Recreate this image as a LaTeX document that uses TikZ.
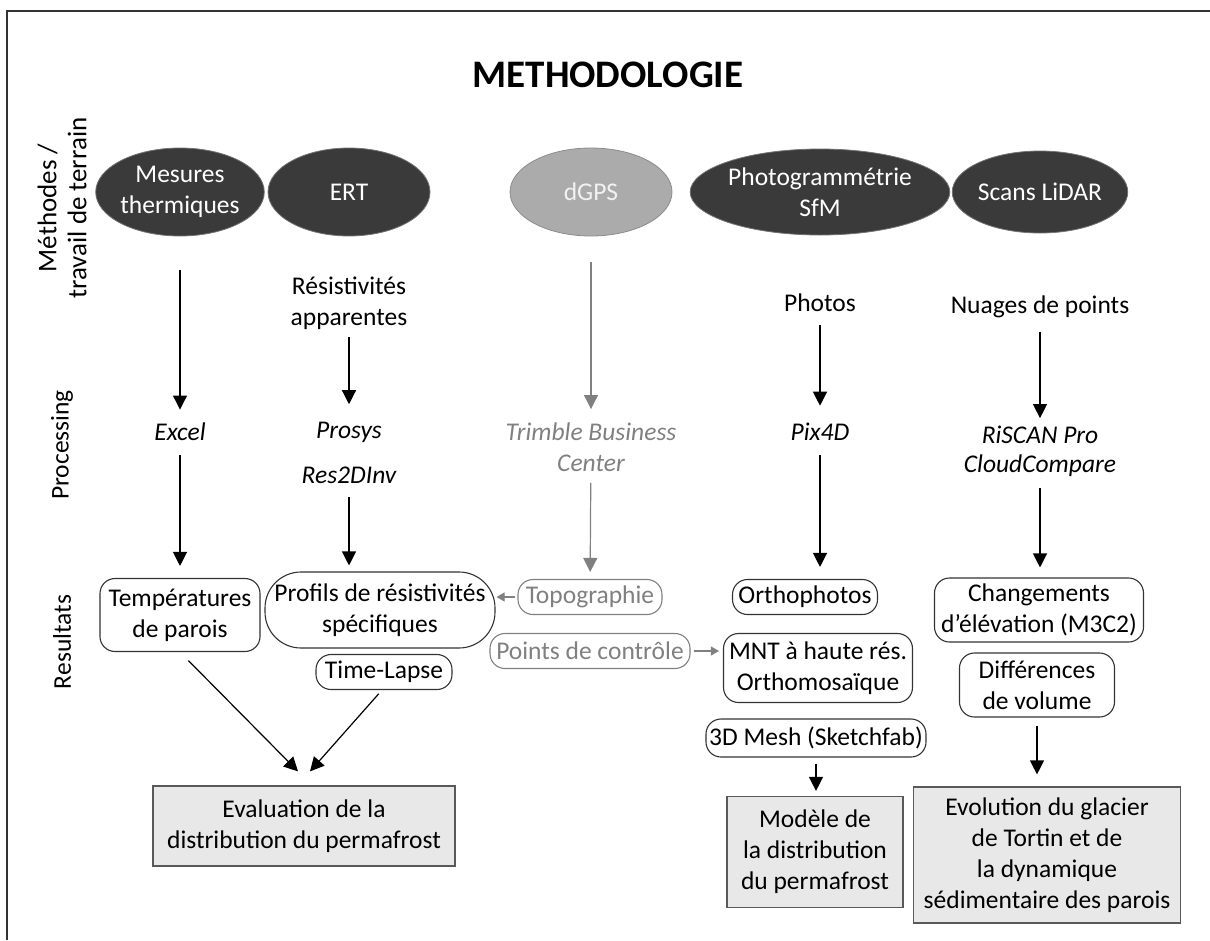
\documentclass[tikz,border=0pt]{standalone}
\usepackage{fontspec}
\setmainfont{Carlito}
\usetikzlibrary{arrows.meta,shapes.geometric}
\definecolor{darkfill}{HTML}{3A3A3A}
\definecolor{lightfill}{HTML}{E8E8E8}
\definecolor{softgray}{HTML}{808080}
\tikzset{
  meth/.style={ellipse, draw=black!55, line width=0.8pt, fill=darkfill, text=white,
    minimum width=162pt, minimum height=88pt, inner sep=0pt, align=center},
  res/.style={draw=black!80, rounded corners=15pt, align=center, inner sep=1pt, line width=1.1pt},
  soft/.style={draw=softgray, text=softgray},
  fin/.style={draw=black!65, fill=lightfill, align=center, line width=1.2pt, inner sep=2pt,
    font=\fontsize{25.5}{31}\selectfont},
  arr/.style={-{Triangle[width=14pt,length=14pt]}, line width=1.2pt, draw=black},
  garr/.style={-{Triangle[width=9pt,length=8pt]}, line width=1.1pt, draw=softgray, fill=softgray},
  gbig/.style={-{Triangle[width=14pt,length=14pt]}, line width=1.2pt, draw=softgray, fill=softgray},
  lbl/.style={rotate=90, align=center},
  plain/.style={align=center},
  itx/.style={font=\fontsize{25.5}{31}\selectfont\itshape}
}
\begin{document}
\begin{tikzpicture}[x=1pt,y=-1pt,font=\fontsize{25.5}{31}\selectfont]
\useasboundingbox (0,0) rectangle (1210,940);
\draw[line width=2pt, black!80] (7,940) -- (7,11) -- (1210,11);

\node[font=\fontsize{39}{46}\selectfont\bfseries] (title) at (608,75) {METHODOLOGIE};

% row labels
\node[lbl, font=\fontsize{27}{30}\selectfont] (lab1) at (62,208) {Méthodes /\\travail de terrain};
\node[lbl] (lab2) at (62,445) {Processing};
\node[lbl] (lab3) at (62,642) {Resultats};

% methods
\node[meth] (m1) at (180,192) {Mesures\\thermiques};
\node[meth] (m2) at (349,192) {ERT};
\node[meth, fill=black!33, draw=black!45, text=white!95!black] (m3) at (591,192) {dGPS};
\node[meth, minimum width=210pt, minimum height=86pt] (m4) at (820,192) {Photogrammétrie\\SfM};
\node[meth, minimum height=82pt] (m5) at (1040,192) {Scans LiDAR};

% raw data
\node[plain] (r2) at (349,303) {Résistivités\\apparentes};
\node[plain] (p4) at (820,303) {Photos};
\node[plain] (n5) at (1040,307) {Nuages de points};

% processing
\node[plain, itx] (e1) at (180,432) {Excel};
\node[plain, itx] (pr2) at (349,432) {Prosys};
\node[plain, itx] (rd2) at (349,475) {Res2DInv};
\node[plain, itx, text=softgray] (t3) at (591,447) {Trimble Business\\Center};
\node[plain, itx] (x4) at (820,432) {Pix4D};
\node[plain, itx, font=\fontsize{25.5}{29}\selectfont\itshape] (rs5) at (1040,451) {RiSCAN Pro\\CloudCompare};

% results
\node[res, minimum width=160pt, minimum height=73pt] (o1) at (180,615) {Températures\\de parois};
\node[res, rounded corners=36pt, minimum width=230pt, minimum height=76pt] (o2) at (380,610) {Profils de résistivités\\spécifiques};
\node[res, soft, minimum width=144pt, minimum height=35pt] (topo) at (590,597) {Topographie};
\node[res, soft, minimum width=200pt, minimum height=35pt] (pc) at (590,651) {Points de contrôle};
\node[res, minimum width=136pt, minimum height=35pt] (tl) at (384,672) {Time-Lapse};
\node[res, minimum width=145pt, minimum height=35pt] (or4) at (805,597) {Orthophotos};
\node[res, minimum width=189pt, minimum height=69pt] (mnt) at (818,668) {MNT à haute rés.\\Orthomosaïque};
\node[res, minimum width=220pt, minimum height=38pt] (mesh) at (816,738) {3D Mesh (Sketchfab)};
\node[res, minimum width=209pt, minimum height=64pt] (ch5) at (1039,610) {Changements\\d’élévation (M3C2)};
\node[res, minimum width=155pt, minimum height=64pt] (dv5) at (1037,685) {Différences\\de volume};

% final
\node[fin, minimum width=302pt, minimum height=80pt] (f1) at (304,826) {Evaluation de la\\distribution du permafrost};
\node[fin, minimum width=176pt, minimum height=111pt] (f2) at (815,852) {Modèle de\\la distribution\\du permafrost};
\node[fin, minimum width=267pt, minimum height=136pt] (f3) at (1047,855) {Evolution du glacier\\de Tortin et de\\la dynamique\\sédimentaire des parois};

% arrows column 1
\draw[arr, shorten <=34pt, shorten >=10pt] (m1) -- (e1);
\draw[arr, shorten <=11pt, shorten >=12pt] (e1) -- (o1);
% column 2
\draw[arr, shorten <=4pt, shorten >=14pt] (r2) -- (pr2);
\draw[arr, shorten <=10pt, shorten >=6pt] (rd2) -- (rd2 |- o2.north);
% column 3
\draw[gbig, shorten <=26pt, shorten >=10pt] (m3) -- (t3);
\draw[gbig, shorten <=8pt, shorten >=7pt] (t3) -- (topo);
% column 4
\draw[arr, shorten <=10pt, shorten >=14pt] (p4) -- (x4);
\draw[arr, shorten <=11pt, shorten >=12pt] (x4.south) -- (x4.south |- or4.north);
% column 5
\draw[arr, shorten <=10pt, shorten >=4pt] (n5) -- (rs5);
\draw[arr, shorten <=8pt, shorten >=10pt] (rs5) -- (rs5 |- ch5.north);
% grey side arrows
\draw[garr, shorten <=2pt, shorten >=1pt] (topo.west) -- (topo.west -| o2.east);
\draw[garr, shorten <=3pt, shorten >=4pt] (pc.east) -- (pc.east -| mnt.west);
% to final
\draw[arr, shorten <=12pt] (o1.south) -- ([xshift=-6pt,yshift=14pt]f1.north);
\draw[arr, shorten <=5pt] ([xshift=-2pt]tl.south) -- ([xshift=6pt,yshift=14pt]f1.north);
\draw[arr, shorten <=6pt, shorten >=5pt] (mesh.south) -- (mesh.south |- f2.north);
\draw[arr, shorten <=8pt, shorten >=12pt] (dv5.south) -- (dv5.south |- f3.north);
\end{tikzpicture}
\end{document}
